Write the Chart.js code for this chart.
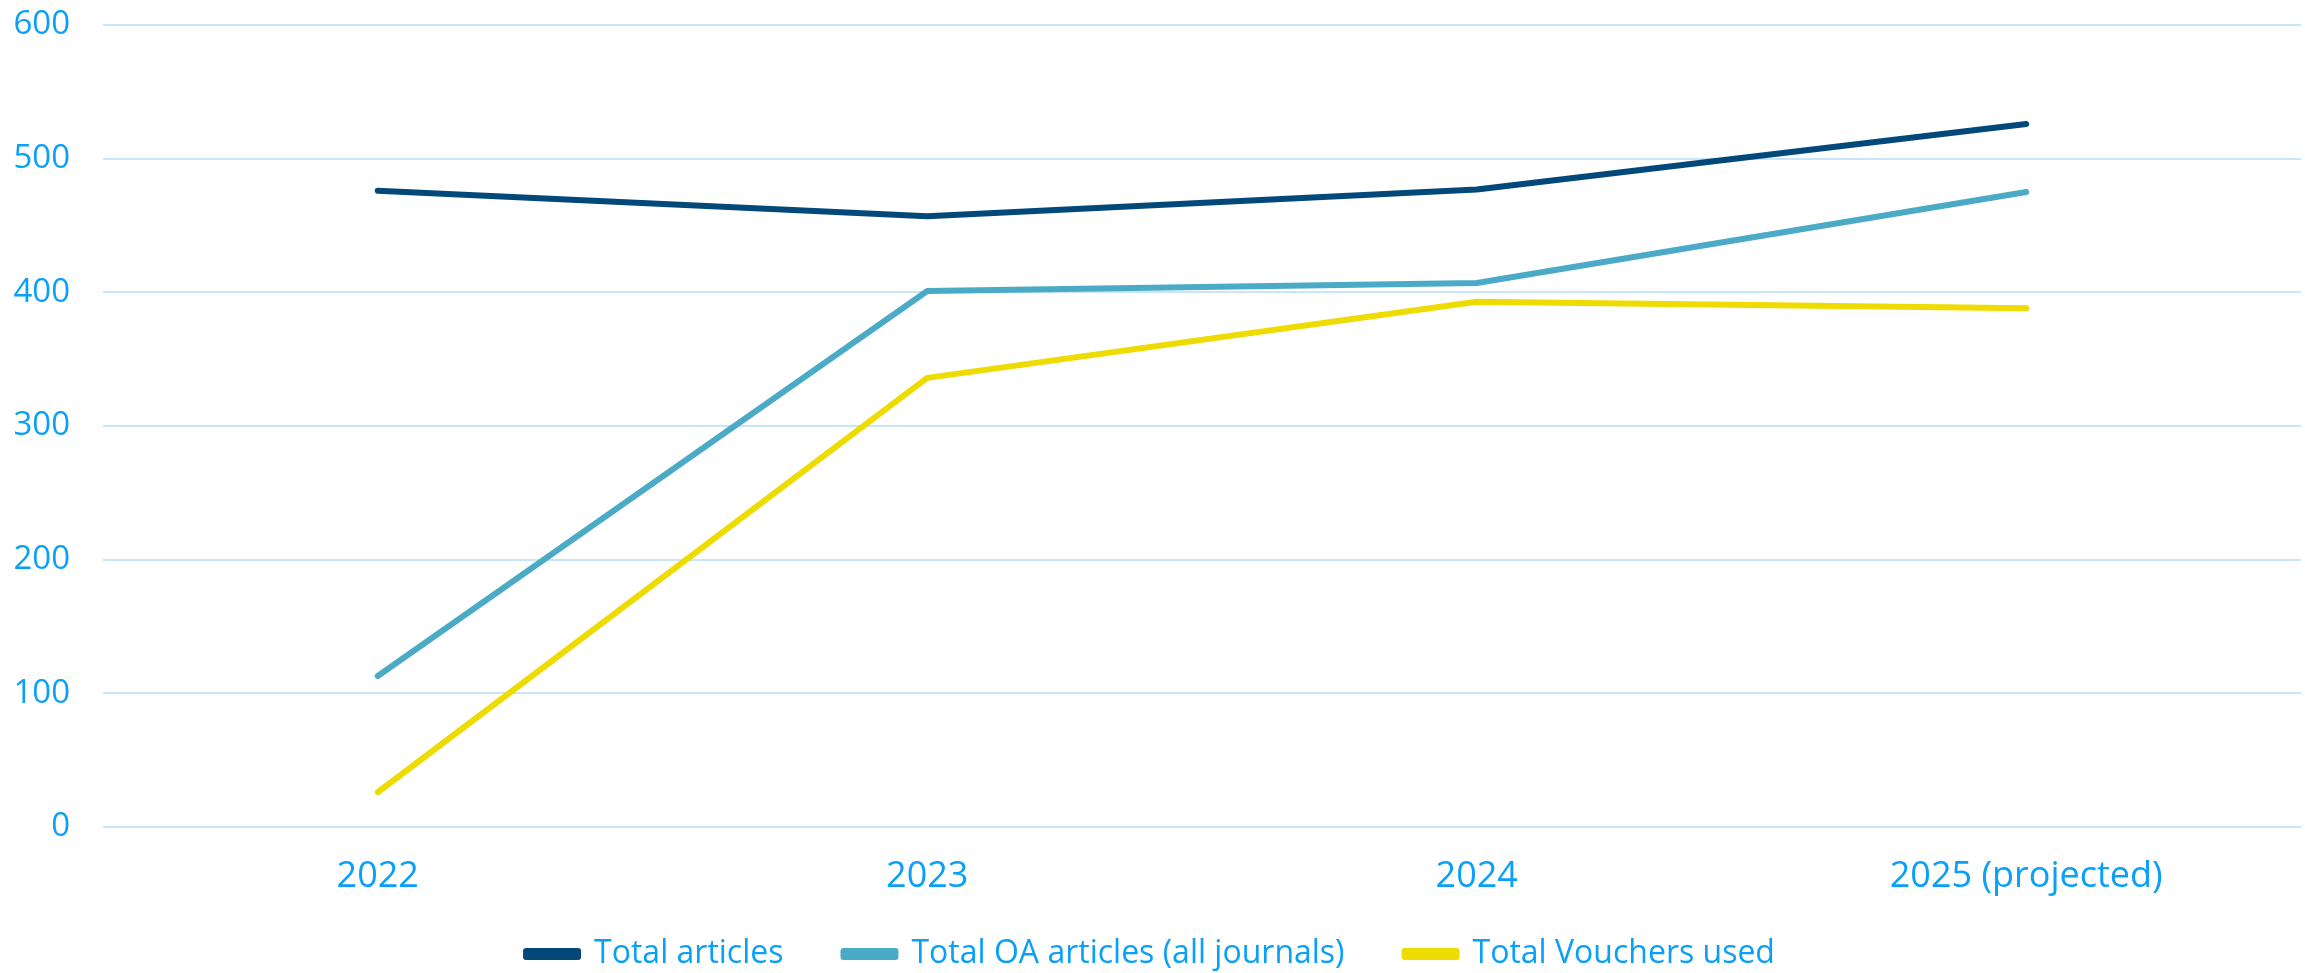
<!DOCTYPE html>
<html>
<head>
<meta charset="utf-8">
<script src="https://cdn.jsdelivr.net/npm/chart.js@4"></script>
<style>
  html, body { margin: 0; padding: 0; background: #fff; }
  #wrap { width: 2305px; height: 973px; position: relative; }
</style>
</head>
<body>
<div id="wrap"><canvas id="articles-chart"></canvas></div>
<script>
const categories = ['2022', '2023', '2024', '2025 (projected)'];
const totalArticles = [476, 457, 477, 526];
const oaArticles = [113, 401, 407, 475];
const vouchersUsed = [26, 336, 393, 388];
const seriesNames = ['Total articles', 'Total OA articles (all journals)', 'Total Vouchers used'];

const textBlue = '#0AA0F7';
const gridBlue = '#C8E6FA';
const font = '"Open Sans", "DejaVu Sans", sans-serif';

const line = (label, data, color) => ({
  label,
  data,
  borderColor: color,
  backgroundColor: color,
  borderWidth: 6,
  pointRadius: 0,
  pointHoverRadius: 0,
  tension: 0,
  borderCapStyle: 'round',
  borderJoinStyle: 'round',
  fill: false
});

// legend padding also spaces the items apart; pull the box up a bit so the
// wide item gaps don't push the text off the bottom
const liftLegend = {
  id: 'liftLegend',
  afterLayout(chart) {
    const lg = chart.legend;
    if (!lg) return;
    lg.top -= 27;
    lg.bottom -= 27;
  }
};

new Chart(document.getElementById('articles-chart'), {
  type: 'line',
  data: {
    labels: categories,
    datasets: [
      line(seriesNames[0], totalArticles, '#02497A'),
      line(seriesNames[1], oaArticles, '#4BABC6'),
      line(seriesNames[2], vouchersUsed, '#EEDC00')
    ]
  },
  options: {
    responsive: true,
    maintainAspectRatio: false,
    animation: false,
    layout: { padding: { top: 25, right: 4, left: 0, bottom: -34 } },
    plugins: {
      tooltip: { enabled: false },
      legend: {
        position: 'bottom',
        labels: {
          color: textBlue,
          font: { family: font, size: 32 },
          boxWidth: 52,
          boxHeight: 6,
          padding: 60
        }
      }
    },
    scales: {
      x: {
        offset: true,
        grid: { display: false },
        border: { display: false },
        ticks: { color: textBlue, font: { family: font, size: 36 }, padding: 20, maxRotation: 0 },
        afterFit: (s) => { s.height = 78; }
      },
      y: {
        min: 0,
        max: 600,
        border: { display: false },
        grid: { color: gridBlue, lineWidth: 2, drawTicks: false },
        ticks: { stepSize: 100, color: textBlue, font: { family: font, size: 33 }, padding: 33 },
        afterFit: (s) => {
          s.width = 103;
          // tick padding is otherwise added above the top label too
          s.paddingTop = 20;
          s.paddingBottom = 20;
        }
      }
    }
  },
  plugins: [liftLegend]
});
</script>
</body>
</html>
